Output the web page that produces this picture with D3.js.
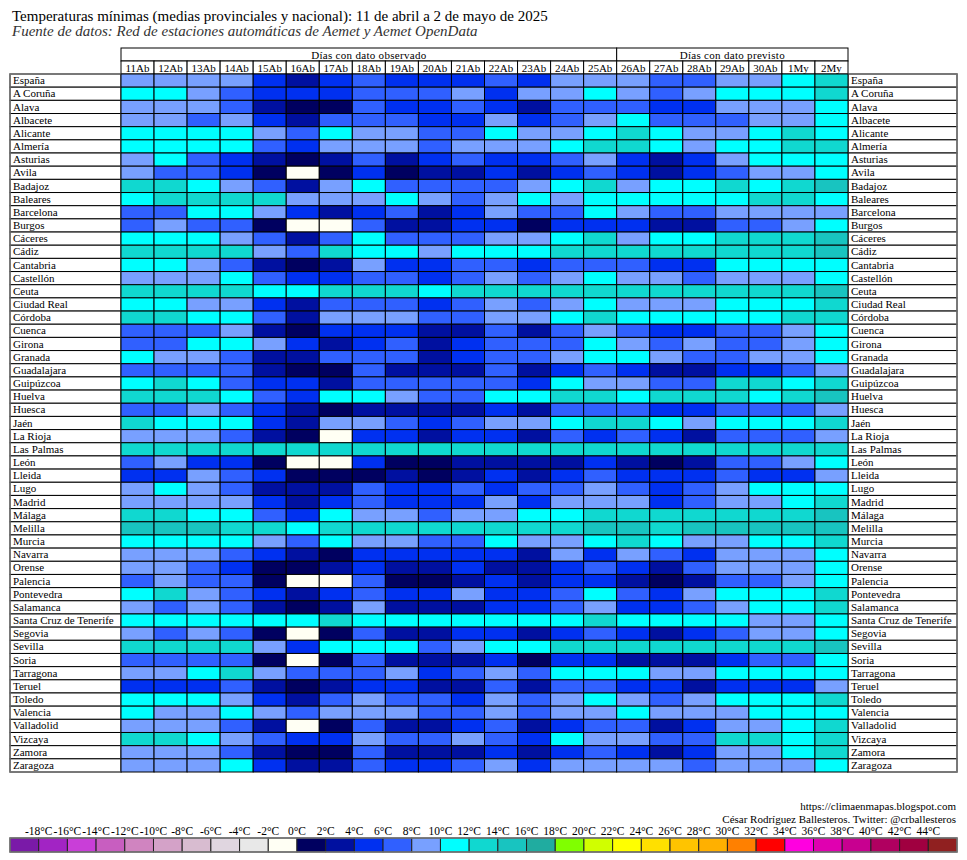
<!DOCTYPE html>
<html><head><meta charset="utf-8">
<script src="https://cdn.jsdelivr.net/npm/d3@7"></script>
<style>body{margin:0;background:#fff}svg{display:block}text{font-family:"Liberation Serif","Times New Roman",serif}</style>
</head><body><svg id="c" width="967" height="860"></svg>
<script>
const days = ["11Ab","12Ab","13Ab","14Ab","15Ab","16Ab","17Ab","18Ab","19Ab","20Ab","21Ab","22Ab","23Ab","24Ab","25Ab","26Ab","27Ab","28Ab","29Ab","30Ab","1My","2My"];
const observedCount = 15;
const provinces = ["España","A Coruña","Alava","Albacete","Alicante","Almería","Asturias","Avila","Badajoz","Baleares","Barcelona","Burgos","Cáceres","Cádiz","Cantabria","Castellón","Ceuta","Ciudad Real","Córdoba","Cuenca","Girona","Granada","Guadalajara","Guipúzcoa","Huelva","Huesca","Jaén","La Rioja","Las Palmas","León","Lleida","Lugo","Madrid","Málaga","Melilla","Murcia","Navarra","Orense","Palencia","Pontevedra","Salamanca","Santa Cruz de Tenerife","Segovia","Sevilla","Soria","Tarragona","Teruel","Toledo","Valencia","Valladolid","Vizcaya","Zamora","Zaragoza"];
// mean minimum temperatures (°C), estimated from the colour classes
const tmin = [
[9,9,9,9,5,3,5,7,5,5,5,7,5,9,9,9,7,7,9,9,11,13],
[11,11,9,7,5,5,5,7,7,7,9,5,9,9,11,9,7,9,11,11,11,13],
[9,9,9,7,3,1,1,7,5,5,7,5,3,7,7,7,5,5,9,9,9,11],
[9,9,7,9,5,3,7,7,7,5,5,9,5,7,9,11,7,7,7,9,9,11],
[11,11,11,11,9,7,11,9,9,7,7,11,9,9,11,13,11,9,9,11,13,11],
[11,11,11,11,7,5,9,9,9,7,9,9,9,11,13,13,11,9,11,11,13,13],
[9,11,7,5,3,1,3,7,3,5,7,5,5,7,9,5,3,5,9,11,11,11],
[9,7,7,5,1,-1,1,5,1,3,3,5,3,5,7,5,3,5,7,9,9,11],
[13,13,11,9,7,3,9,11,7,7,7,7,9,11,13,9,11,11,13,11,13,15],
[11,13,13,13,13,9,9,9,11,9,7,9,11,9,11,11,11,11,11,13,13,11],
[7,7,11,11,9,5,3,5,7,3,5,9,7,7,11,9,7,7,9,9,9,9],
[7,9,7,7,1,-1,-1,7,3,3,5,5,1,5,5,5,3,3,7,7,9,11],
[11,11,11,9,7,3,7,11,7,7,7,9,9,11,13,9,11,11,13,13,13,15],
[13,13,13,13,9,7,13,11,11,9,11,11,11,13,13,13,13,13,13,13,13,15],
[11,11,9,7,3,1,3,9,5,5,7,7,5,7,7,7,5,5,11,11,11,11],
[9,9,9,11,7,5,5,7,7,5,7,9,7,9,11,9,9,7,9,9,9,11],
[13,13,13,13,11,11,13,13,13,11,13,13,13,13,13,13,13,13,13,13,13,15],
[11,11,9,9,5,3,7,7,7,5,7,9,7,9,11,9,9,9,11,11,11,13],
[13,13,11,11,7,3,9,9,9,7,7,9,9,11,13,11,11,11,11,11,13,13],
[7,7,7,9,3,1,5,5,5,3,3,7,3,7,9,7,5,5,7,7,9,11],
[7,7,11,11,9,5,3,5,7,3,5,7,7,7,11,9,7,9,7,7,9,11],
[11,9,9,7,3,3,7,7,7,3,5,7,7,9,11,11,9,7,7,9,9,11],
[7,7,7,7,3,1,1,7,3,3,3,7,3,5,7,5,3,3,5,5,7,9],
[11,13,11,7,5,5,3,7,7,7,7,7,5,11,9,9,7,7,13,13,11,13],
[13,13,13,11,7,5,11,11,9,7,7,11,11,13,13,11,13,13,13,11,13,15],
[7,7,9,7,5,3,1,3,3,3,3,5,3,7,7,7,5,5,7,7,7,9],
[13,11,11,11,5,3,9,9,7,5,7,9,9,11,13,13,11,9,11,11,11,13],
[9,9,9,7,3,1,-1,5,5,3,5,5,3,7,5,7,5,3,7,7,7,9],
[13,13,13,13,13,13,13,13,13,13,13,13,13,13,13,13,13,13,13,13,13,13],
[7,9,5,5,1,-1,-1,5,1,1,3,3,3,3,5,3,1,3,7,7,9,11],
[5,5,9,7,5,1,1,1,3,1,3,5,3,5,7,5,5,5,7,5,5,9],
[9,11,9,7,3,3,3,7,5,5,7,5,7,7,9,7,5,7,9,11,11,11],
[9,9,9,9,5,3,5,7,5,5,5,9,5,9,9,9,5,7,9,9,11,13],
[13,13,11,11,7,5,11,9,9,7,9,9,11,11,13,13,13,13,13,13,13,15],
[15,15,15,13,13,11,13,13,13,13,13,13,13,13,15,15,13,15,15,15,15,15],
[11,11,11,11,9,7,11,9,9,7,7,11,9,9,11,13,11,9,9,11,11,13],
[9,9,9,7,5,3,1,5,5,5,5,5,3,9,5,9,7,5,9,9,9,11],
[9,9,7,5,1,1,3,5,3,3,5,3,3,5,7,5,3,7,9,9,9,11],
[7,9,7,7,1,-1,-1,7,1,1,3,5,3,5,5,3,1,3,7,7,9,11],
[11,13,9,7,5,3,5,7,5,5,9,5,5,7,11,7,5,9,11,11,11,13],
[9,7,9,7,3,1,3,9,3,3,3,5,5,7,9,5,5,7,9,11,11,13],
[11,11,11,11,11,11,13,11,11,11,11,11,11,11,13,11,11,11,11,9,9,11],
[9,7,9,7,1,-1,1,7,3,3,5,5,3,5,7,5,3,5,7,9,9,11],
[13,13,13,13,9,5,11,11,11,7,9,11,11,13,13,13,13,13,13,13,13,15],
[7,7,7,7,1,-1,1,7,3,3,3,5,1,5,5,3,3,3,5,7,7,11],
[9,9,11,13,9,7,7,7,9,5,7,9,7,11,11,11,9,9,11,11,11,11],
[5,5,5,7,3,1,3,5,5,3,3,7,3,7,7,5,5,3,5,5,5,9],
[11,11,11,9,5,3,7,9,7,7,5,9,7,9,11,9,7,9,11,11,11,13],
[11,9,9,11,9,7,9,9,9,7,7,9,7,9,9,11,9,9,9,11,11,11],
[9,9,9,7,3,-1,1,7,3,3,5,7,3,5,7,7,3,5,9,9,11,13],
[13,13,11,9,7,5,5,9,7,7,9,7,5,11,9,9,7,7,13,13,11,13],
[9,9,9,7,3,1,1,7,3,3,3,5,3,5,7,5,3,5,9,9,11,13],
[9,9,9,11,5,3,3,7,5,5,7,9,5,9,9,9,9,7,9,9,9,11]
];
const legendBreaks = [-18,-16,-14,-12,-10,-8,-6,-4,-2,0,2,4,6,8,10,12,14,16,18,20,22,24,26,28,30,32,34,36,38,40,42,44];
const legendColors = ["#7a1aa8","#a224c4","#c93ed8","#c85ec0","#d084c0","#d4a2c8","#d8bcd0","#e0d6e0","#e8e8e8","#fffff4",
"#000060","#0010a0","#0030f0","#3060ff","#78a0ff","#00ffff","#10d8d0","#18c4c0","#20aca0",
"#80ff00","#d0ff00","#ffff00","#ffe000","#ffc400","#ffb000","#ff8000","#ff0000","#ff00e0","#e000b0","#c80090","#b00060","#a00040","#902020"];

const svg = d3.select("#c");
const color = d3.scaleThreshold().domain(legendBreaks).range(legendColors);

svg.append("text").attr("x",12).attr("y",21).attr("font-size",15).text("Temperaturas mínimas (medias provinciales y nacional): 11 de abril a 2 de mayo de 2025");
svg.append("text").attr("x",12).attr("y",36).attr("font-size",15).attr("font-style","italic").attr("fill","#333").text("Fuente de datos: Red de estaciones automáticas de Aemet y Aemet OpenData");

const x = d3.scaleBand().domain(days).range([121,848]);
const y = d3.scaleBand().domain(provinces).range([74,772]);
const hTop = 48, hMid = 61;

const groups = [{name:"Días con dato observado", a:0, b:observedCount-1},{name:"Días con dato previsto", a:observedCount, b:days.length-1}];
const hg = svg.append("g");
groups.forEach(g=>{
  const x0 = x(days[g.a]), x1 = x(days[g.b]) + x.bandwidth();
  hg.append("rect").attr("x",x0).attr("y",hTop).attr("width",x1-x0).attr("height",hMid-hTop).attr("fill","#fff").attr("stroke","#000");
  hg.append("text").attr("x",(x0+x1)/2).attr("y",hMid-2.5).attr("text-anchor","middle").attr("font-size",11).attr("letter-spacing","0.3").text(g.name);
});
days.forEach(d=>{
  hg.append("rect").attr("x",x(d)).attr("y",hMid).attr("width",x.bandwidth()).attr("height",74-hMid).attr("fill","#fff").attr("stroke","#000");
  hg.append("text").attr("x",x(d)+x.bandwidth()/2).attr("y",72).attr("text-anchor","middle").attr("font-size",11).text(d);
});

[[10,121],[848,957]].forEach(([a,b])=>{
  const g = svg.append("g");
  g.selectAll("rect").data(provinces).join("rect")
    .attr("x",a).attr("y",p=>y(p)).attr("width",b-a).attr("height",y.bandwidth()).attr("fill","#fff").attr("stroke","#000");
  g.selectAll("text").data(provinces).join("text")
    .attr("x",a+3).attr("y",p=>y(p)+y.bandwidth()-3).attr("font-size",11).text(p=>p);
  g.append("rect").attr("x",a).attr("y",74).attr("width",b-a).attr("height",698).attr("fill","none").attr("stroke","#777").attr("stroke-width",1.5);
});

const cells = [];
provinces.forEach((p,i)=>days.forEach((d,j)=>cells.push({p,d,v:tmin[i][j]})));
svg.append("g").selectAll("rect").data(cells).join("rect")
  .attr("x",c=>x(c.d)).attr("y",c=>y(c.p)).attr("width",x.bandwidth()).attr("height",y.bandwidth())
  .attr("fill",c=>color(c.v)).attr("stroke","#000").attr("stroke-width",1);

svg.append("text").attr("x",956).attr("y",810).attr("text-anchor","end").attr("font-size",11).text("https://climaenmapas.blogspot.com");
svg.append("text").attr("x",956).attr("y",823).attr("text-anchor","end").attr("font-size",11).text("César Rodríguez Ballesteros. Twitter: @crballesteros");

const lx = d3.scaleLinear().domain([0,legendColors.length]).range([10,957]);
const lg = svg.append("g");
lg.selectAll("rect").data(legendColors).join("rect")
  .attr("x",(c,i)=>lx(i)).attr("y",838).attr("width",lx(1)-lx(0)).attr("height",14).attr("fill",c=>c).attr("stroke","#222");
lg.append("rect").attr("x",10).attr("y",838).attr("width",947).attr("height",14).attr("fill","none").attr("stroke","#777").attr("stroke-width",1.5);
lg.selectAll("text").data(legendBreaks).join("text")
  .attr("x",(b,i)=>lx(i+1)).attr("y",835).attr("text-anchor","middle").attr("font-size",11.5).text(b=>b+"°C");
</script></body></html>
